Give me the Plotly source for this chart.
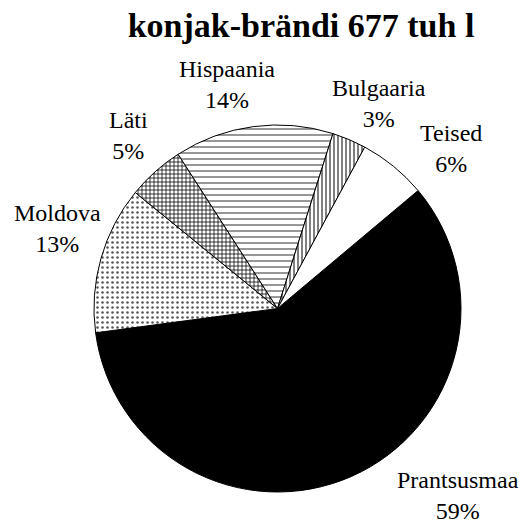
import plotly.graph_objects as go

labels = ["Prantsusmaa", "Moldova", "Läti", "Hispaania", "Bulgaaria", "Teised"]
values = [59, 13, 5, 14, 3, 6]

# styling (not data)
fills = ["black", "white", "white", "white", "white", "white"]
shapes = ["", ".", "+", "-", "|", ""]
pat_fg = ["black", "#555555", "black", "#333333", "black", "black"]
pat_size = [6, 5, 4, 6, 4, 6]
pat_sol = [0.3, 0.2, 0.35, 0.17, 0.25, 0.3]
# label anchor positions in pixels (x, y, xanchor)
label_pos = [(458, 495, "center"), (57, 228, "center"), (128, 135, "center"),
             (227, 85, "center"), (379, 103, "center"), (451, 148, "center")]

W, H = 522, 525
cx, cy, r = 277.5, 308.5, 183.5

fig = go.Figure(go.Pie(
    labels=labels,
    values=values,
    sort=False,
    direction="clockwise",
    rotation=50,
    textinfo="none",
    hoverinfo="label+percent",
    marker=dict(
        colors=fills,
        line=dict(color="black", width=1),
        pattern=dict(shape=shapes, fgcolor=pat_fg, bgcolor="white",
                     size=pat_size, solidity=pat_sol),
    ),
    domain=dict(x=[(cx - r) / W, (cx + r) / W], y=[1 - (cy + r) / H, 1 - (cy - r) / H]),
    showlegend=False,
))

total = sum(values)
for lab, v, (px, py, xa) in zip(labels, values, label_pos):
    fig.add_annotation(
        x=px / W, y=1 - py / H, xref="paper", yref="paper",
        text=f"{lab}<br>{round(100 * v / total)}%",
        showarrow=False, xanchor=xa, yanchor="middle", align="center",
        font=dict(family="Liberation Serif", size=24, color="black"),
    )

fig.update_layout(
    width=W, height=H,
    margin=dict(l=0, r=0, t=0, b=0),
    paper_bgcolor="white", plot_bgcolor="white",
    title=dict(text="<b>konjak-brändi 677 tuh l</b>", x=301 / W, xanchor="center",
               y=1 - 25 / H, yanchor="middle", yref="container",
               font=dict(family="Liberation Serif", size=34, color="black")),
)

fig.write_html("out.html",
               config={"displayModeBar": False},
               post_script="document.body.style.margin='0';document.body.style.overflow='hidden';")
